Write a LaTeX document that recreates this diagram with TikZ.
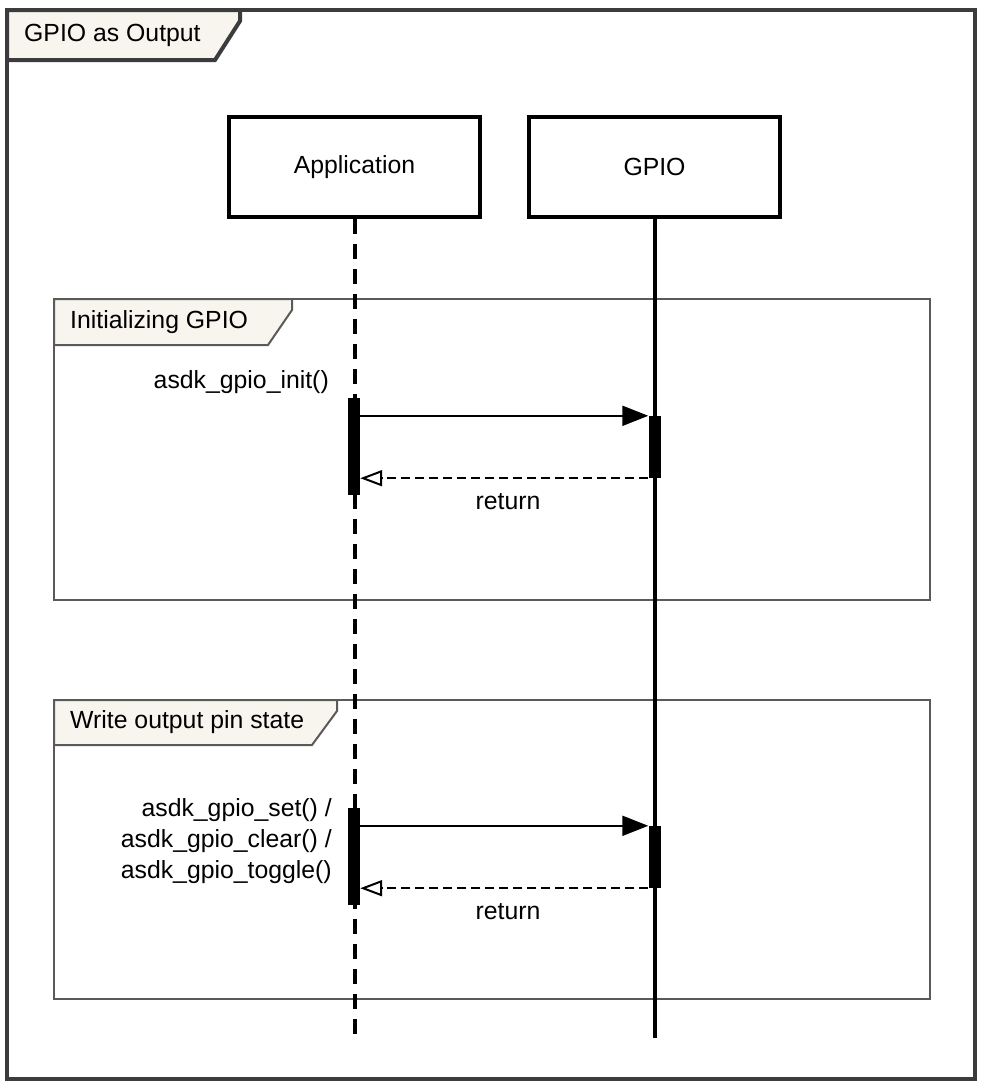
\documentclass[tikz,border=0pt]{standalone}
\usepackage{fontspec}
\setmainfont{Liberation Sans}
\usetikzlibrary{arrows.meta}
\definecolor{framegray}{HTML}{3C3C3E}
\definecolor{fraggray}{HTML}{5A5A5A}
\definecolor{tabfill}{HTML}{F7F5EE}
\tikzset{
  txt/.style={font=\fontsize{24.8}{31}\selectfont, inner sep=0pt},
  actor/.style={draw=black, line width=4pt, fill=white, minimum width=251pt,
    minimum height=100pt, txt},
  actbar/.style={fill=black, draw=none, minimum width=12pt, inner sep=0pt},
  lifedash/.style={line width=4pt, dash pattern=on 15pt off 10pt},
  lifesolid/.style={line width=4pt},
  callmsg/.style={line width=2pt, -{Triangle[length=26pt,width=20pt]}},
  retmsg/.style={line width=2pt, dash pattern=on 9pt off 5pt,
    -{Triangle[open,length=22pt,width=16pt,line width=2pt]}},
  outerframe/.style={draw=framegray, line width=4pt},
  fragframe/.style={draw=fraggray, line width=2pt},
}
\begin{document}
\begin{tikzpicture}[x=1pt,y=-1pt]
\useasboundingbox (0,0) rectangle (980,1084);
\fill[white] (0,0) rectangle (980,1084);

% outer diagram frame with its title tab
\draw[outerframe] (7,10) rectangle (975,1079);
\draw[outerframe, fill=tabfill, line join=miter] (7,10) -- (240,10) -- (240,21) -- (215,60) -- (7,60) -- cycle;
\node[txt, anchor=west] (title) at (24,35) {GPIO as Output};

% combined fragments
\draw[fragframe] (54,299) rectangle (930,600);
\draw[fragframe, fill=tabfill] (54,299) -- (292,299) -- (292,310) -- (268,345) -- (54,345) -- cycle;
\node[txt, anchor=west] (frag1) at (70,322) {Initializing GPIO};

\draw[fragframe] (54,700) rectangle (930,999);
\draw[fragframe, fill=tabfill] (54,700) -- (337,700) -- (337,711) -- (312,745) -- (54,745) -- cycle;
\node[txt, anchor=west] (frag2) at (70,722) {Write output pin state};

% participants and lifelines
\node[actor] (app) at (354.5,167) {Application};
\node[actor] (gpio) at (654.5,167) {GPIO};
\coordinate (append) at (354.5,1042);
\coordinate (gpioend) at (654.5,1038);
\draw[lifedash] (app.south) -- (append);
\draw[lifesolid] (gpio.south) -- (gpioend);

% activation bars
\node[actbar, minimum height=97pt] (a1) at (354,446.5) {};
\node[actbar, minimum height=62pt] (g1) at (654.5,447) {};
\node[actbar, minimum height=97pt] (a2) at (354,856.5) {};
\node[actbar, minimum height=62pt] (g2) at (654.5,857) {};

% initialisation call and return
\draw[callmsg] (a1.east |- g1.north) -- (g1.north west);
\draw[retmsg] (g1.south west) -- (a1.east |- g1.south);
\node[txt, anchor=east] (init) at (329,382) {asdk\_gpio\_init()};
\node[txt] (ret1) at (508,502) {return};

% write call and return
\draw[callmsg] (a2.east |- g2.north) -- (g2.north west);
\draw[retmsg] (g2.south west) -- (a2.east |- g2.south);
\node[txt, anchor=east, align=right] (write) at (332,841) {asdk\_gpio\_set() /\\asdk\_gpio\_clear() /\\asdk\_gpio\_toggle()};
\node[txt] (ret2) at (508,912) {return};
\end{tikzpicture}
\end{document}
